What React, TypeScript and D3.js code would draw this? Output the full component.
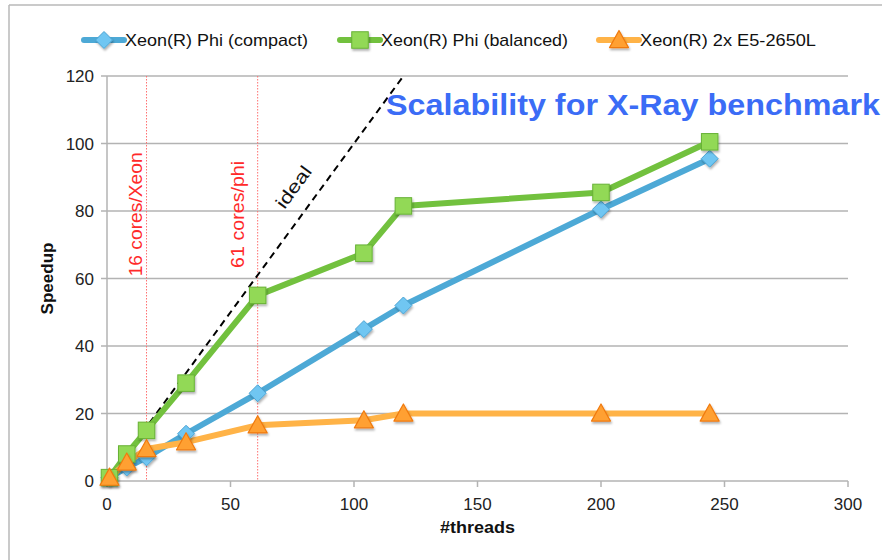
import React from 'react';
import * as d3 from 'd3';

const threads = [1, 8, 16, 32, 61, 104, 120, 200, 244];
const compact = [1, 4, 7, 14, 26, 45, 52, 80.5, 95.5];
const balanced = [1, 8, 15, 29, 55, 67.5, 81.5, 85.5, 100.5];
const xeonE5 = [1, 5.5, 9.5, 11.5, 16.5, 18, 20, 20, 20];

const xTicks = [0, 50, 100, 150, 200, 250, 300];
const yTicks = [0, 20, 40, 60, 80, 100, 120];

const idealLine = [0, 120];
const coreMarks = [16, 61];
const coreLabels = ['16 cores/Xeon', '61 cores/phi'];

type Shape = 'diamond' | 'square' | 'triangle';
const seriesList = [
  { name: 'Xeon(R) Phi (compact)', values: compact, line: '#4da9d6', fill: '#6fc6f2', stroke: '#4aa3d3', shape: 'diamond' as Shape },
  { name: 'Xeon(R) Phi (balanced)', values: balanced, line: '#72c13e', fill: '#92d957', stroke: '#68b236', shape: 'square' as Shape },
  { name: 'Xeon(R) 2x E5-2650L', values: xeonE5, line: '#ffb347', fill: '#ffa030', stroke: '#f07a10', shape: 'triangle' as Shape },
];

const W = 882;
const H = 560;
const FONT = '"Liberation Sans", Arial, Helvetica, sans-serif';

function Marker({ shape, x, y, fill, stroke }: { shape: Shape; x: number; y: number; fill: string; stroke: string }) {
  if (shape === 'diamond') {
    const r = 8.5;
    return <path d={`M${x},${y - r}L${x + r},${y}L${x},${y + r}L${x - r},${y}Z`} fill={fill} stroke={stroke} strokeWidth={1} filter="url(#shadow)" />;
  }
  if (shape === 'square') {
    const s = 16.5;
    return <rect x={x - s / 2} y={y - s / 2} width={s} height={s} fill={fill} stroke={stroke} strokeWidth={1} filter="url(#shadow)" />;
  }
  const r = 9.5;
  return <path d={`M${x},${y - r}L${x + r},${y + r * 0.8}L${x - r},${y + r * 0.8}Z`} fill={fill} stroke={stroke} strokeWidth={1.2} strokeLinejoin="round" filter="url(#shadow)" />;
}

export default function App() {
  const margin = { left: 107, right: 34, top: 76, bottom: 79 };
  const x = d3.scaleLinear().domain([0, 300]).range([margin.left, W - margin.right]);
  const y = d3.scaleLinear().domain([0, 120]).range([H - margin.bottom, margin.top]);

  const line = d3.line<[number, number]>().x((d) => x(d[0])).y((d) => y(d[1]));

  const idealAngle = (Math.atan2(y(0) - y(1), x(1) - x(0)) * 180) / Math.PI;

  const legendX = [84, 340, 599];
  const legendLen = [183, 187, 176];
  const coreDx = [-5, -14];
  const coreLen = [124, 107];
  const tickColor = '#b3b3b3';

  return (
    <svg width={W} height={H} style={{ position: 'absolute', left: 0, top: 0, background: '#fff' }} fontFamily={FONT}>
      <defs>
        <filter id="shadow" x="-50%" y="-50%" width="200%" height="200%">
          <feDropShadow dx="1" dy="2" stdDeviation="1.2" floodColor="#000" floodOpacity="0.3" />
        </filter>
      </defs>

      {/* frame */}
      <line x1={9} x2={9} y1={5} y2={H} stroke="#b8b8b8" strokeWidth={1.5} />
      <line x1={9} x2={W} y1={5} y2={5} stroke="#b8b8b8" strokeWidth={1.5} />

      {/* legend */}
      {seriesList.map((s, i) => (
        <g key={s.name} transform={`translate(${legendX[i]},40)`}>
          <line x1={0} x2={40} y1={0} y2={0} stroke={s.line} strokeWidth={6} strokeLinecap="round" />
          <Marker shape={s.shape} x={20} y={0} fill={s.fill} stroke={s.stroke} />
          <text x={41} y={6} fontSize={17} fill="#111" textLength={legendLen[i]} lengthAdjust="spacingAndGlyphs">{s.name}</text>
        </g>
      ))}

      {/* grid */}
      {yTicks.filter((t) => t > 0).map((t) => (
        <line key={t} x1={x(0)} x2={x(300)} y1={y(t)} y2={y(t)} stroke={tickColor} strokeWidth={1.5} />
      ))}

      {/* axes */}
      <line x1={x(0)} x2={x(0)} y1={y(120)} y2={y(0)} stroke={tickColor} strokeWidth={1.5} />
      <line x1={x(0)} x2={x(300)} y1={y(0)} y2={y(0)} stroke={tickColor} strokeWidth={1.5} />
      {yTicks.map((t) => (
        <g key={t}>
          <line x1={x(0) - 6} x2={x(0)} y1={y(t)} y2={y(t)} stroke={tickColor} strokeWidth={1.5} />
          <text x={x(0) - 13} y={y(t) + 6} textAnchor="end" fontSize={17} fill="#222">{t}</text>
        </g>
      ))}
      {xTicks.map((t) => (
        <g key={t}>
          <line x1={x(t)} x2={x(t)} y1={y(0)} y2={y(0) + 6} stroke={tickColor} strokeWidth={1.5} />
          <text x={x(t)} y={y(0) + 29} textAnchor="middle" fontSize={17} fill="#222">{t}</text>
        </g>
      ))}
      <text x={(x(0) + x(300)) / 2} y={533} textAnchor="middle" fontSize={17} fontWeight="bold" fill="#111" textLength={75} lengthAdjust="spacingAndGlyphs">#threads</text>
      <text transform={`translate(53,${(y(0) + y(120)) / 2}) rotate(-90)`} textAnchor="middle" fontSize={17} fontWeight="bold" fill="#111">Speedup</text>

      {/* core markers */}
      {coreMarks.map((c, i) => (
        <g key={c}>
          <line x1={x(c)} x2={x(c)} y1={y(120)} y2={y(0)} stroke="#ff7070" strokeWidth={1} strokeDasharray="1.5,1.5" />
          <text transform={`translate(${x(c) + coreDx[i]},${y(79)}) rotate(-90)`} textAnchor="middle" fontSize={18} fill="#ff2a2a" textLength={coreLen[i]} lengthAdjust="spacingAndGlyphs">{coreLabels[i]}</text>
        </g>
      ))}

      {/* ideal */}
      <path d={line([[idealLine[0], idealLine[0]], [idealLine[1], idealLine[1]]]) || ''} stroke="#000" strokeWidth={2} strokeDasharray="7,5" fill="none" />
      <text transform={`translate(${x(80) - 6},${y(86)}) rotate(${-idealAngle})`} textAnchor="middle" fontSize={18} fill="#111" textLength={48} lengthAdjust="spacingAndGlyphs">ideal</text>

      {/* series */}
      {seriesList.map((s) => (
        <path key={s.name} d={line(threads.map((t, i) => [t, s.values[i]] as [number, number])) || ''} stroke={s.line} strokeWidth={6} fill="none" strokeLinejoin="round" />
      ))}
      {seriesList.map((s) => (
        <g key={s.name + 'm'}>
          {threads.map((t, i) => (
            <Marker key={t} shape={s.shape} x={x(t)} y={y(s.values[i])} fill={s.fill} stroke={s.stroke} />
          ))}
        </g>
      ))}

      {/* title */}
      <text x={386} y={115} fontSize={30} fontWeight="bold" fill="#3b6cf6" textLength={494} lengthAdjust="spacingAndGlyphs">Scalability for X-Ray benchmark</text>
    </svg>
  );
}
